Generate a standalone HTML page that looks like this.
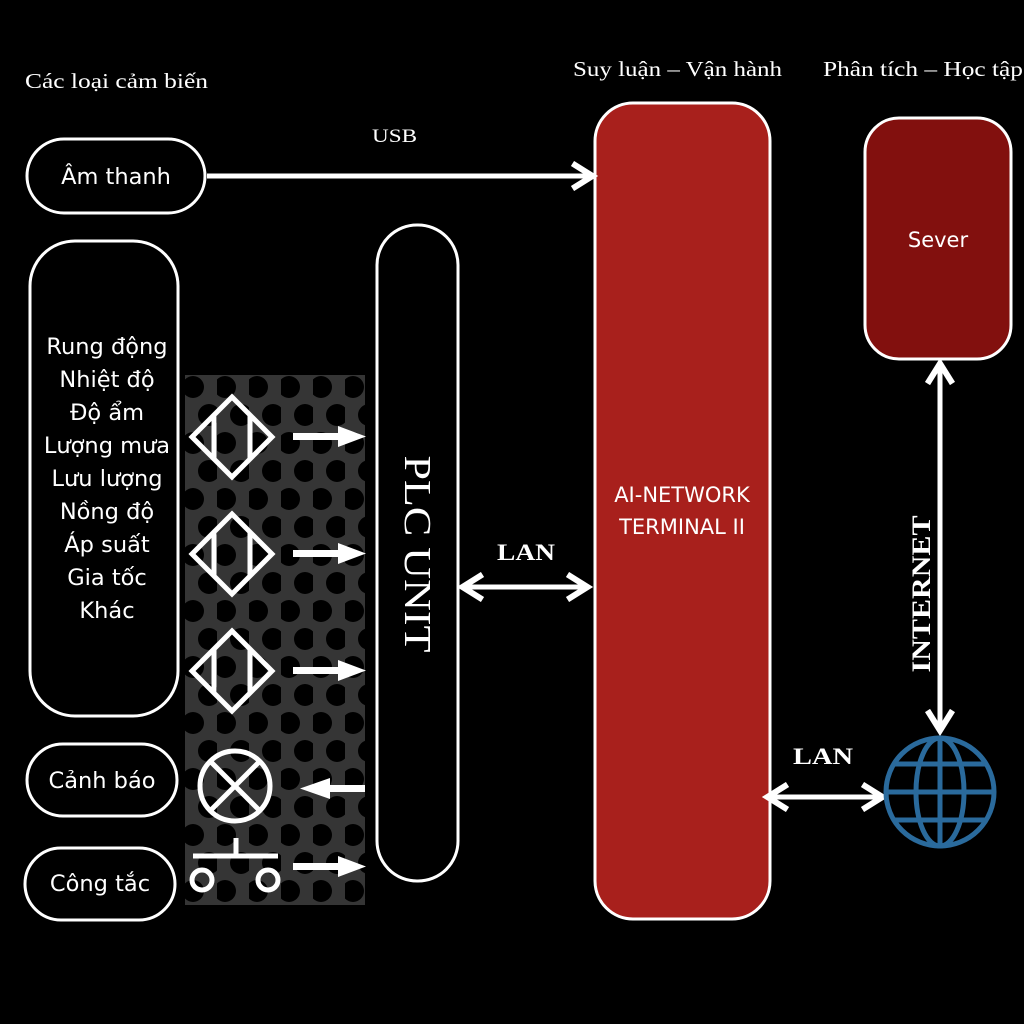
<!DOCTYPE html><html><head><style>body{margin:0;background:#000}svg{display:block}</style></head><body>
<svg width="1024" height="1024" viewBox="0 0 1024 1024" xmlns="http://www.w3.org/2000/svg">
<defs>
<pattern id="dots" width="32" height="56" patternUnits="userSpaceOnUse" x="185" y="375">
<rect width="32" height="56" fill="#353535"/>
<circle cx="8" cy="12" r="11" fill="#000"/><circle cx="24" cy="40" r="11" fill="#000"/>
</pattern>
<marker id="ah" markerWidth="6" markerHeight="6" refX="4" refY="3" orient="auto-start-reverse" markerUnits="strokeWidth"><path d="M0.5,0.5 L4.5,3 L0.5,5.5" fill="none" stroke="#fff" stroke-width="1.2"/></marker>
</defs>
<rect width="1024" height="1024" fill="#000"/>
<g font-family="Liberation Serif, DejaVu Serif, serif" fill="#fff" font-size="21">
<text x="25" y="88" textLength="183" lengthAdjust="spacingAndGlyphs">Các loại cảm biến</text>
<text x="573" y="76" textLength="209" lengthAdjust="spacingAndGlyphs">Suy luận – Vận hành</text>
<text x="823" y="76" textLength="200" lengthAdjust="spacingAndGlyphs">Phân tích – Học tập</text>
<text x="372" y="142" font-size="19" textLength="45" lengthAdjust="spacingAndGlyphs">USB</text>
<text x="497" y="560" font-size="23" font-weight="bold" textLength="58" lengthAdjust="spacingAndGlyphs">LAN</text>
<text x="793" y="764" font-size="23" font-weight="bold" textLength="60" lengthAdjust="spacingAndGlyphs">LAN</text>
<text transform="translate(930,594) rotate(-90)" text-anchor="middle" font-size="26" font-weight="bold" textLength="157" lengthAdjust="spacingAndGlyphs">INTERNET</text>
<text transform="translate(405,554) rotate(90)" text-anchor="middle" font-size="38" textLength="197" lengthAdjust="spacingAndGlyphs">PLC UNIT</text>
</g>
<g fill="none" stroke="#fff" stroke-width="3">
<rect x="27" y="139" width="178" height="74" rx="37"/>
<rect x="30" y="241" width="148" height="475" rx="45"/>
<rect x="27" y="744" width="150" height="72" rx="36"/>
<rect x="25" y="848" width="150" height="72" rx="36"/>
<rect x="377" y="225" width="81" height="656" rx="40"/>
</g>
<rect x="595" y="103" width="175" height="816" rx="38" fill="#a8201c" stroke="#fff" stroke-width="3"/>
<rect x="865" y="118" width="146" height="241" rx="34" fill="#82100e" stroke="#fff" stroke-width="3"/>
<g font-family="DejaVu Sans, sans-serif" fill="#fff" font-size="22.5" text-anchor="middle">
<text x="116" y="184">Âm thanh</text>
<text x="107" y="354">Rung động</text><text x="107" y="387">Nhiệt độ</text><text x="107" y="420">Độ ẩm</text><text x="107" y="453">Lượng mưa</text><text x="107" y="486">Lưu lượng</text><text x="107" y="519">Nồng độ</text><text x="107" y="552">Áp suất</text><text x="107" y="585">Gia tốc</text><text x="107" y="618">Khác</text>
<text x="102" y="788">Cảnh báo</text>
<text x="100" y="891">Công tắc</text>
<text x="682" y="502" font-size="21">AI-NETWORK</text>
<text x="682" y="534" font-size="21">TERMINAL II</text>
<text x="938" y="247" font-size="21">Sever</text>
</g>
<rect x="185" y="375" width="180" height="530" fill="url(#dots)"/>
<g fill="none" stroke="#fff" stroke-width="5">
<g id="sen"><path d="M232,397 L272,437 L232,477 L192,437 Z M214,415 V459 M250,415 V459"/></g>
<use href="#sen" y="117"/><use href="#sen" y="234"/>
<circle cx="235" cy="786" r="35"/><path d="M210,761 L260,811 M260,761 L210,811"/>
<path d="M193,856 H278 M236,856 V838"/>
<circle cx="202" cy="880" r="10"/><circle cx="268" cy="880" r="10"/>
</g>
<g fill="#fff">
<g id="ar"><rect x="293" y="433" width="50" height="7"/><path d="M338,426 L366,436.5 L338,447Z"/></g>
<use href="#ar" y="117"/><use href="#ar" y="234"/><use href="#ar" y="430"/>
<rect x="325" y="785" width="40" height="7"/><path d="M330,778 L300,788.5 L330,799Z"/>
</g>
<g stroke="#fff" stroke-width="5" fill="none" marker-end="url(#ah)">
<line x1="207" y1="176" x2="590" y2="176"/>
<line x1="465" y1="587" x2="585" y2="587" marker-start="url(#ah)"/>
<line x1="770" y1="797" x2="880" y2="797" marker-start="url(#ah)"/>
<line x1="940" y1="366" x2="940" y2="728" marker-start="url(#ah)"/>
</g>
<g fill="none" stroke="#2a6a9c" stroke-width="5">
<circle cx="940" cy="792" r="54"/>
<ellipse cx="940" cy="792" rx="24" ry="54"/>
<line x1="940" y1="738" x2="940" y2="846"/>
<line x1="886" y1="792" x2="994" y2="792"/>
<path d="M894,764 H986 M894,820 H986"/>
</g>
</svg></body></html>
